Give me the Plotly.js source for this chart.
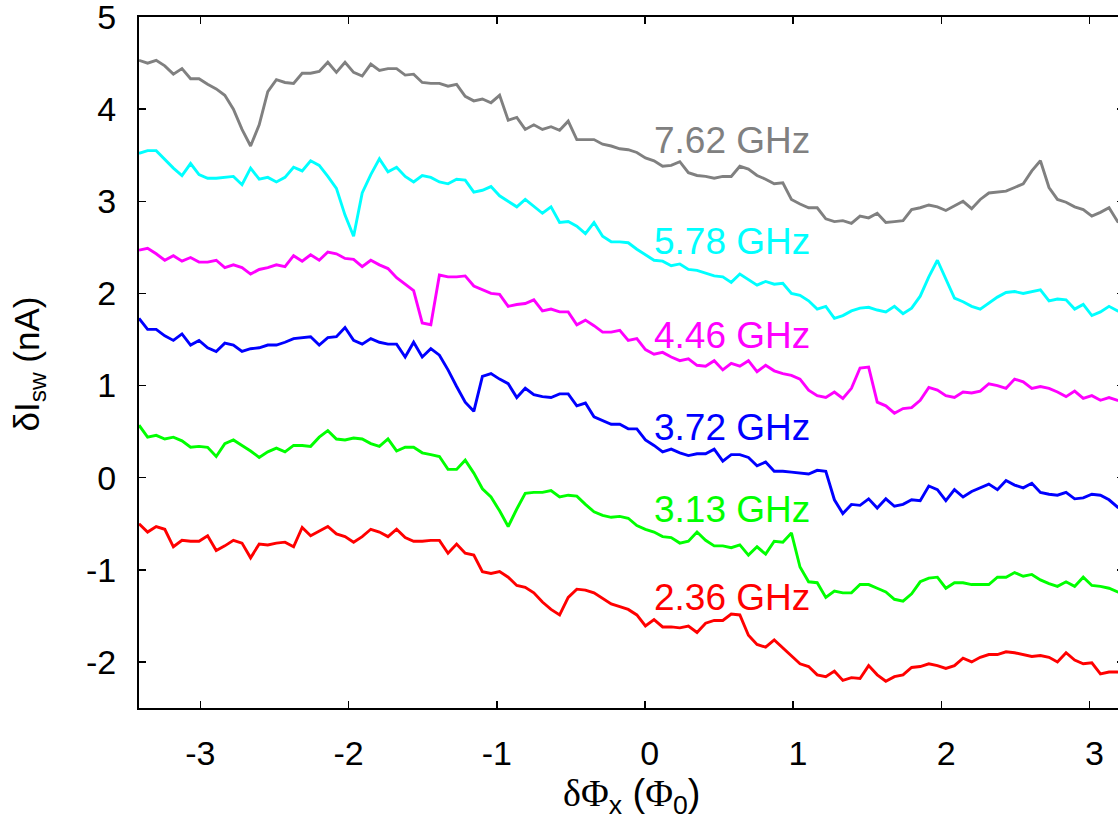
<!DOCTYPE html>
<html>
<head>
<meta charset="utf-8">
<script src="https://cdn.plot.ly/plotly-3.0.1.min.js"></script>
<style>
  html, body { margin: 0; padding: 0; overflow: hidden; background: #ffffff; }
  #chart { width: 1150px; height: 823px; }
</style>
</head>
<body>
<div id="chart"></div>
<script>
// Flux offset sample positions (Phi_0)
const fluxX = [
  -3.414,-3.356,-3.298,-3.240,-3.182,-3.124,-3.066,-3.009,-2.951,-2.893,
  -2.835,-2.777,-2.719,-2.661,-2.603,-2.545,-2.487,-2.429,-2.371,-2.313,
  -2.256,-2.198,-2.140,-2.082,-2.024,-1.966,-1.908,-1.850,-1.792,-1.734,
  -1.676,-1.618,-1.561,-1.503,-1.445,-1.387,-1.329,-1.271,-1.213,-1.155,
  -1.097,-1.039,-0.981,-0.923,-0.865,-0.808,-0.750,-0.692,-0.634,-0.576,
  -0.518,-0.460,-0.402,-0.344,-0.286,-0.228,-0.170,-0.113,-0.055,0.003,
  0.061,0.119,0.177,0.235,0.293,0.351,0.409,0.467,0.525,0.582,
  0.640,0.698,0.756,0.814,0.872,0.930,0.988,1.046,1.104,1.162,
  1.220,1.278,1.335,1.393,1.451,1.509,1.567,1.625,1.683,1.741,
  1.799,1.857,1.915,1.973,2.030,2.088,2.146,2.204,2.262,2.320,
  2.378,2.436,2.494,2.552,2.610,2.668,2.726,2.783,2.841,2.899,
  2.957,3.015,3.073,3.131,3.189,3.247
];

// delta I_sw (nA) for each microwave frequency (curves offset vertically)
const f762 = [
  4.53,4.50,4.53,4.47,4.38,4.44,4.33,4.33,4.27,4.22,
  4.15,4.00,3.78,3.60,3.83,4.19,4.32,4.29,4.28,4.39,
  4.39,4.41,4.51,4.40,4.51,4.40,4.36,4.49,4.42,4.44,
  4.44,4.37,4.38,4.29,4.28,4.28,4.25,4.27,4.14,4.09,
  4.11,4.07,4.15,3.88,3.91,3.78,3.83,3.78,3.81,3.77,
  3.87,3.67,3.67,3.67,3.62,3.60,3.57,3.56,3.53,3.47,
  3.44,3.38,3.39,3.43,3.31,3.28,3.27,3.25,3.27,3.27,
  3.38,3.35,3.28,3.24,3.19,3.20,3.02,2.97,2.93,2.93,
  2.81,2.78,2.79,2.76,2.84,2.82,2.87,2.77,2.78,2.79,
  2.91,2.93,2.96,2.94,2.90,2.95,3.00,2.92,3.02,3.09,
  3.10,3.11,3.15,3.19,3.33,3.44,3.15,3.02,2.99,2.94,
  2.91,2.84,2.88,2.93,2.78,2.75
];
const f578 = [
  3.52,3.55,3.55,3.45,3.36,3.28,3.41,3.29,3.25,3.25,
  3.26,3.27,3.18,3.36,3.24,3.26,3.21,3.26,3.37,3.33,
  3.44,3.39,3.27,3.14,2.85,2.62,3.09,3.29,3.46,3.32,
  3.37,3.27,3.21,3.28,3.26,3.21,3.19,3.24,3.23,3.10,
  3.12,3.16,3.06,3.00,2.94,3.02,2.94,2.87,2.94,2.77,
  2.78,2.73,2.65,2.77,2.62,2.56,2.56,2.55,2.48,2.42,
  2.36,2.35,2.30,2.32,2.26,2.25,2.22,2.19,2.18,2.12,
  2.21,2.15,2.09,2.13,2.10,2.11,2.00,1.98,1.92,1.83,
  1.86,1.73,1.76,1.81,1.84,1.85,1.82,1.80,1.86,1.78,
  1.84,1.97,2.18,2.36,2.16,1.95,1.91,1.86,1.83,1.90,
  1.96,2.01,2.02,2.00,2.02,2.04,1.92,1.94,1.93,1.83,
  1.88,1.76,1.80,1.86,1.81,1.78
];
const f446 = [
  2.47,2.49,2.43,2.36,2.41,2.35,2.39,2.34,2.34,2.36,
  2.28,2.31,2.28,2.21,2.26,2.28,2.31,2.29,2.41,2.35,
  2.42,2.36,2.45,2.43,2.38,2.37,2.29,2.36,2.31,2.27,
  2.17,2.10,2.03,1.68,1.66,2.20,2.18,2.18,2.19,2.08,
  2.04,2.00,1.99,1.86,1.88,1.89,1.93,1.81,1.83,1.80,
  1.80,1.66,1.71,1.65,1.58,1.58,1.60,1.49,1.51,1.39,
  1.34,1.36,1.31,1.27,1.29,1.22,1.21,1.27,1.17,1.24,
  1.21,1.27,1.15,1.22,1.16,1.13,1.11,1.07,0.95,0.89,
  0.87,0.93,0.86,0.97,1.19,1.20,0.82,0.78,0.70,0.75,
  0.76,0.84,0.98,0.95,0.89,0.87,0.93,0.92,0.94,1.02,
  1.00,0.97,1.07,1.04,0.97,0.99,0.97,0.93,0.88,0.94,
  0.86,0.89,0.84,0.87,0.84,0.82
];
const f372 = [
  1.73,1.61,1.61,1.54,1.49,1.56,1.44,1.49,1.41,1.37,
  1.46,1.44,1.37,1.40,1.41,1.44,1.44,1.47,1.51,1.52,
  1.53,1.44,1.52,1.53,1.63,1.49,1.45,1.51,1.47,1.45,
  1.45,1.31,1.47,1.31,1.40,1.33,1.17,0.99,0.82,0.72,
  1.10,1.13,1.07,1.02,0.87,0.97,0.90,0.88,0.87,0.91,
  0.91,0.78,0.81,0.66,0.62,0.58,0.58,0.53,0.53,0.41,
  0.35,0.28,0.31,0.27,0.24,0.26,0.26,0.31,0.18,0.25,
  0.25,0.22,0.13,0.17,0.07,0.07,0.06,0.05,0.04,0.08,
  0.07,-0.24,-0.39,-0.29,-0.30,-0.23,-0.33,-0.23,-0.31,-0.29,
  -0.24,-0.25,-0.09,-0.13,-0.25,-0.13,-0.21,-0.15,-0.11,-0.07,
  -0.13,-0.03,-0.08,-0.11,-0.06,-0.16,-0.18,-0.19,-0.16,-0.23,
  -0.22,-0.18,-0.19,-0.24,-0.32,-0.36
];
const f313 = [
  0.57,0.44,0.46,0.42,0.44,0.40,0.33,0.34,0.33,0.23,
  0.37,0.41,0.35,0.29,0.22,0.28,0.32,0.28,0.35,0.35,
  0.34,0.44,0.51,0.42,0.41,0.43,0.42,0.37,0.34,0.42,
  0.29,0.33,0.33,0.27,0.25,0.23,0.09,0.09,0.19,0.05,
  -0.12,-0.21,-0.36,-0.53,-0.34,-0.17,-0.16,-0.16,-0.14,-0.21,
  -0.19,-0.20,-0.29,-0.37,-0.41,-0.43,-0.42,-0.44,-0.52,-0.56,
  -0.59,-0.64,-0.65,-0.71,-0.69,-0.59,-0.68,-0.74,-0.74,-0.76,
  -0.73,-0.84,-0.75,-0.83,-0.69,-0.70,-0.60,-0.97,-1.13,-1.14,
  -1.30,-1.23,-1.25,-1.25,-1.16,-1.16,-1.20,-1.24,-1.32,-1.34,
  -1.26,-1.13,-1.09,-1.08,-1.20,-1.14,-1.14,-1.16,-1.16,-1.16,
  -1.08,-1.08,-1.03,-1.07,-1.05,-1.11,-1.15,-1.18,-1.13,-1.18,
  -1.08,-1.17,-1.18,-1.20,-1.24,-1.26
];
const f236 = [
  -0.50,-0.59,-0.53,-0.56,-0.75,-0.68,-0.69,-0.69,-0.63,-0.79,
  -0.74,-0.68,-0.71,-0.87,-0.72,-0.73,-0.71,-0.70,-0.75,-0.54,
  -0.63,-0.58,-0.53,-0.61,-0.64,-0.70,-0.64,-0.56,-0.59,-0.64,
  -0.56,-0.65,-0.69,-0.69,-0.68,-0.68,-0.82,-0.72,-0.82,-0.84,
  -1.02,-1.04,-1.02,-1.08,-1.17,-1.19,-1.25,-1.35,-1.43,-1.49,
  -1.30,-1.21,-1.22,-1.25,-1.31,-1.37,-1.40,-1.43,-1.49,-1.61,
  -1.54,-1.62,-1.62,-1.63,-1.61,-1.68,-1.58,-1.55,-1.55,-1.48,
  -1.49,-1.71,-1.81,-1.84,-1.76,-1.85,-1.94,-2.02,-2.05,-2.14,
  -2.16,-2.10,-2.20,-2.17,-2.18,-2.04,-2.14,-2.21,-2.16,-2.14,
  -2.06,-2.05,-2.02,-2.04,-2.07,-2.04,-1.96,-2.00,-1.95,-1.92,
  -1.92,-1.89,-1.90,-1.92,-1.94,-1.93,-1.95,-2.00,-1.90,-1.98,
  -2.02,-2.01,-2.13,-2.11,-2.11,-2.12
];

const seriesNames = ['7.62 GHz', '5.78 GHz', '4.46 GHz', '3.72 GHz', '3.13 GHz', '2.36 GHz'];
const seriesValues = [f762, f578, f446, f372, f313, f236];

const xTickVals = [-3, -2, -1, 0, 1, 2, 3];
const xTickText = ['-3', '-2', '-1', '\u00a00', '\u00a01', '\u00a02', '\u00a03'];
const yTickVals = [-2, -1, 0, 1, 2, 3, 4, 5];
const yTickText = ['-2', '-1', '0', '1', '2', '3', '4', '5'];

// ---- styling (kept separate from data) ----
const colors = ['#808080', '#00ffff', '#ff00ff', '#0000ff', '#00ff00', '#ff0000'];
const labelYPos = [3.66, 2.56, 1.545, 0.545, -0.345, -1.30];
const labelXPos = 0.05;
const sans = 'Liberation Sans, Arial, sans-serif';
const serif = 'Liberation Serif, Times New Roman, serif';

const traces = seriesValues.map((vals, k) => ({
  type: 'scatter',
  mode: 'lines',
  x: fluxX,
  y: vals,
  name: seriesNames[k],
  line: { color: colors[k], width: 2.9 },
  hoverinfo: 'skip'
}));

const annotations = seriesNames.map((t, k) => ({
  text: t,
  x: labelXPos, y: labelYPos[k], xref: 'x', yref: 'y',
  xanchor: 'left', yanchor: 'middle', showarrow: false,
  font: { family: sans, size: 37, color: colors[k] }
}));

annotations.push({
  text: 'δI<sub>sw</sub> (nA)',
  xref: 'paper', yref: 'paper', x: -0.112, y: 0.498,
  xanchor: 'center', yanchor: 'middle', textangle: -90, showarrow: false,
  font: { family: sans, size: 35, color: '#000000' }
});
annotations.push({
  text: '<span style="font-family:' + serif + '">δΦ</span><sub>x</sub> (<span style="font-family:' + serif + '">Φ</span><sub>0</sub>)',
  xref: 'paper', yref: 'paper', x: 0.5, y: -0.128,
  xanchor: 'center', yanchor: 'middle', showarrow: false,
  font: { family: sans, size: 38, color: '#000000' }
});

const axisCommon = {
  showline: true, linecolor: '#000000', linewidth: 2,
  mirror: 'ticks', ticks: 'inside', ticklen: 7, tickwidth: 1.5, tickcolor: '#000000',
  showgrid: false, zeroline: false,
  tickfont: { family: sans, size: 34, color: '#000000' },
  tickmode: 'array',
  ticklabeloverflow: 'allow'
};

const layout = {
  width: 1150, height: 823,
  margin: { l: 139, r: 26, t: 17, b: 115 },
  paper_bgcolor: '#ffffff', plot_bgcolor: '#ffffff',
  showlegend: false,
  xaxis: Object.assign({}, axisCommon, {
    range: [-3.414, 3.232], tickvals: xTickVals, ticktext: xTickText,
    ticklabelstandoff: 14
  }),
  yaxis: Object.assign({}, axisCommon, {
    range: [-2.5, 5.0005], tickvals: yTickVals, ticktext: yTickText,
    ticklabelstandoff: 14
  }),
  annotations: annotations
};

Plotly.newPlot('chart', traces, layout, { displayModeBar: false, staticPlot: true });
</script>
</body>
</html>
